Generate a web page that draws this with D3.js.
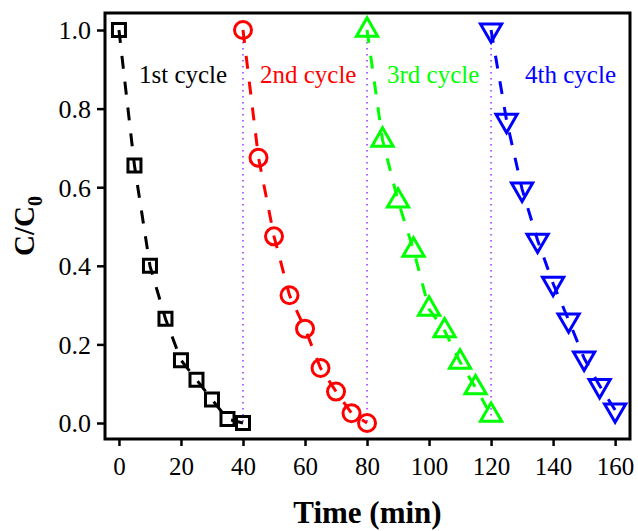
<!DOCTYPE html>
<html>
<head>
<meta charset="utf-8">
<script src="https://cdn.jsdelivr.net/npm/d3@7/dist/d3.min.js"></script>
<style>
  html, body { margin: 0; padding: 0; background: #fff; }
  svg { display: block; }
  text { font-family: "Liberation Serif", "Times New Roman", serif; }
</style>
</head>
<body>
<svg id="chart" width="638" height="531"></svg>
<script>
// Degradation data: relative concentration C/C0 over four reuse cycles
const cycleNames = ["1st cycle", "2nd cycle", "3rd cycle", "4th cycle"];
const cycleColors = ["#000000", "#ff0000", "#00ff00", "#0000ff"];

const cycle1Time = [0, 5, 10, 15, 20, 25, 30, 35, 40];
const cycle1 = [1.0, 0.655, 0.40, 0.265, 0.16, 0.11, 0.06, 0.01, 0.0];

const cycle2Time = [40, 45, 50, 55, 60, 65, 70, 75, 80];
const cycle2 = [1.0, 0.675, 0.475, 0.325, 0.24, 0.14, 0.08, 0.025, 0.0];

const cycle3Time = [80, 85, 90, 95, 100, 105, 110, 115, 120];
const cycle3 = [1.0, 0.72, 0.565, 0.44, 0.29, 0.235, 0.155, 0.09, 0.02];

const cycle4Time = [120, 125, 130, 135, 140, 145, 150, 155, 160];
const cycle4 = [1.0, 0.77, 0.595, 0.465, 0.355, 0.262, 0.165, 0.095, 0.033];

// Cycle boundaries marked by dotted vertical lines
const boundaries = [40, 80, 120];

const xTicks = [0, 20, 40, 60, 80, 100, 120, 140, 160];
const yTicks = [0.0, 0.2, 0.4, 0.6, 0.8, 1.0];

const series = [
  { name: cycleNames[0], t: cycle1Time, v: cycle1, color: cycleColors[0], symbol: d3.symbolSquare, size: 169, rotate: 0 },
  { name: cycleNames[1], t: cycle2Time, v: cycle2, color: cycleColors[1], symbol: d3.symbolCircle, size: 227, rotate: 0 },
  { name: cycleNames[2], t: cycle3Time, v: cycle3, color: cycleColors[2], symbol: d3.symbolTriangle, size: 195, rotate: 0 },
  { name: cycleNames[3], t: cycle4Time, v: cycle4, color: cycleColors[3], symbol: d3.symbolTriangle, size: 195, rotate: 180 }
];

// Cycle caption placement: offset in px from each cycle's start time
const captionOffset = [20, 17, 20, 34];
const captionBaseline = 83;

const plot = { left: 105, right: 630, top: 13, bottom: 439 };

const x = d3.scaleLinear().domain([-4.5, 164.8]).range([plot.left, plot.right]);
const y = d3.scaleLinear().domain([-0.0407, 1.0433]).range([plot.bottom, plot.top]);

const svg = d3.select("#chart");

// Dotted cycle separators
svg.append("g").selectAll("line").data(boundaries).join("line")
  .attr("x1", d => x(d)).attr("x2", d => x(d))
  .attr("y1", y(1.0)).attr("y2", y(0))
  .attr("stroke", "#9933ff").attr("stroke-width", 1.5)
  .attr("stroke-dasharray", "1.5,4.5");

// Dashed connecting lines
const line = d3.line().x(d => x(d[0])).y(d => y(d[1]));
svg.append("g").selectAll("path").data(series).join("path")
  .attr("d", s => line(s.t.map((t, i) => [t, s.v[i]])))
  .attr("fill", "none")
  .attr("stroke", s => s.color)
  .attr("stroke-width", 3)
  .attr("stroke-dasharray", "13,13");

// Hollow markers
series.forEach(s => {
  const sym = d3.symbol().type(s.symbol).size(s.size);
  svg.append("g").selectAll("path").data(s.t.map((t, i) => [t, s.v[i]])).join("path")
    .attr("d", sym)
    .attr("transform", d => `translate(${x(d[0])},${y(d[1])}) rotate(${s.rotate})`)
    .attr("fill", "none")
    .attr("stroke", s.color)
    .attr("stroke-width", 3);
});

// Cycle captions
svg.append("g").selectAll("text").data(series).join("text")
  .attr("x", (s, i) => x(s.t[0]) + captionOffset[i])
  .attr("y", captionBaseline)
  .attr("fill", s => s.color)
  .attr("font-size", 25)
  .text(s => s.name);

// Axes
const xAxis = svg.append("g")
  .attr("transform", `translate(0,${plot.bottom})`)
  .call(d3.axisBottom(x).tickValues(xTicks).tickSize(7).tickSizeOuter(0));
xAxis.select(".domain").remove();
xAxis.selectAll(".tick line").attr("stroke", "#000").attr("stroke-width", 2.5);
xAxis.selectAll(".tick text")
  .attr("y", 36).attr("dy", 0)
  .attr("text-anchor", "middle")
  .attr("fill", "#000")
  .attr("font-size", 25);

const yAxis = svg.append("g")
  .attr("transform", `translate(${plot.left},0)`)
  .call(d3.axisLeft(y).tickValues(yTicks).tickFormat(d3.format(".1f")).tickSize(8).tickSizeOuter(0));
yAxis.select(".domain").remove();
yAxis.selectAll(".tick line").attr("stroke", "#000").attr("stroke-width", 2.5);
yAxis.selectAll(".tick text")
  .attr("x", -14).attr("dy", "0.34em")
  .attr("text-anchor", "end")
  .attr("fill", "#000")
  .attr("font-size", 26);

// Plot frame
svg.append("rect")
  .attr("x", plot.left).attr("y", plot.top)
  .attr("width", plot.right - plot.left).attr("height", plot.bottom - plot.top)
  .attr("fill", "none").attr("stroke", "#000").attr("stroke-width", 3);

// Axis titles
svg.append("text")
  .attr("x", (plot.left + plot.right) / 2).attr("y", 523)
  .attr("text-anchor", "middle")
  .attr("font-size", 31).attr("font-weight", "bold")
  .text("Time (min)");

const yTitle = svg.append("text")
  .attr("transform", "translate(34,226) rotate(-90)")
  .attr("text-anchor", "middle")
  .attr("font-size", 29).attr("font-weight", "bold");
yTitle.append("tspan").text("C/C");
yTitle.append("tspan").attr("font-size", 20).attr("dy", 8).text("0");
</script>
</body>
</html>
